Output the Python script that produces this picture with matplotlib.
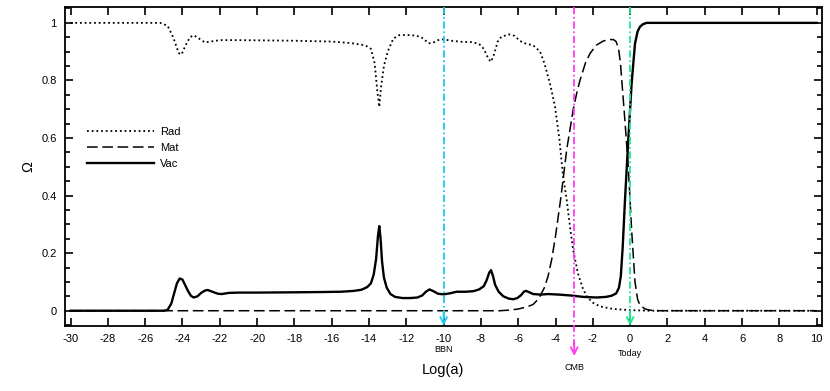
import numpy as np
import matplotlib
matplotlib.use("Agg")
import matplotlib.pyplot as plt
from matplotlib.ticker import MultipleLocator

plt.rcParams['font.family'] = ['Liberation Sans', 'DejaVu Sans']
plt.rcParams['axes.unicode_minus'] = False

# Omega_rad vs log(a)
rad_x = [-30, -25.2, -24.8, -24.5, -24.2, -24.05, -23.85, -23.6, -23.4, -23.1, -22.8, -22.5,
         -22.0, -21, -18, -16, -15, -14.2, -13.9, -13.7, -13.55, -13.45, -13.35, -13.2, -13.0,
         -12.7, -12.4, -12, -11.5, -11.2, -11.0, -10.8, -10.6, -10.3, -10.0, -9.6, -9, -8.5,
         -8.1, -7.85, -7.6, -7.46, -7.3, -7.1, -6.9, -6.5, -6.2, -5.9, -5.6, -5.2, -4.83,
         -4.6, -4.3, -4.03, -3.8, -3.6, -3.4, -3.2, -3.05, -2.8, -2.55, -2.33, -2.0, -1.62,
         -0.9, 0, 1.0, 10]
rad_y = [1.0, 1.0, 0.99, 0.95, 0.895, 0.89, 0.92, 0.95, 0.957, 0.945, 0.932, 0.935,
         0.94, 0.94, 0.938, 0.935, 0.93, 0.922, 0.91, 0.86, 0.76, 0.708, 0.78, 0.85, 0.9,
         0.945, 0.957, 0.958, 0.956, 0.95, 0.94, 0.929, 0.93, 0.94, 0.943, 0.938, 0.934, 0.933,
         0.927, 0.91, 0.875, 0.865, 0.89, 0.935, 0.952, 0.96, 0.955, 0.937, 0.928, 0.922, 0.9,
         0.86, 0.79, 0.71, 0.6, 0.47, 0.384, 0.28, 0.21, 0.13, 0.08, 0.05, 0.028, 0.015,
         0.006, 0.002, 0.0, 0.0]

# Omega_mat
mat_x = [-30, -7, -6.5, -6.0, -5.5, -5.2, -4.9, -4.6, -4.4, -4.2, -4.0, -3.85, -3.72, -3.55,
         -3.4, -3.2, -3.05, -2.85, -2.69, -2.4, -2.15, -1.8, -1.44, -1.1, -0.9, -0.75, -0.62,
         -0.52, -0.4, -0.28, -0.1, 0.08, 0.26, 0.4, 0.52, 0.8, 1.06, 1.5, 10]
mat_y = [0, 0, 0.002, 0.006, 0.014, 0.022, 0.042, 0.08, 0.12, 0.18, 0.26, 0.33, 0.39, 0.48,
         0.56, 0.64, 0.70, 0.76, 0.80, 0.86, 0.894, 0.923, 0.937, 0.942, 0.942, 0.935, 0.91,
         0.86, 0.76, 0.66, 0.5, 0.28, 0.1, 0.04, 0.02, 0.006, 0.002, 0, 0]

# Omega_vac
vac_x = [-30, -25.0, -24.8, -24.6, -24.45, -24.3, -24.15, -24.0, -23.85, -23.7, -23.55, -23.4,
         -23.2, -23.0, -22.8, -22.65, -22.4, -22.1, -21.9, -21.5, -21, -20, -18, -16.5, -15.5,
         -14.8, -14.4, -14.1, -13.9, -13.75, -13.62, -13.52, -13.45, -13.38, -13.3, -13.2,
         -13.05, -12.85, -12.6, -12.2, -11.8, -11.4, -11.15, -10.95, -10.76, -10.55, -10.3,
         -10.0, -9.7, -9.3, -8.8, -8.4, -8.1, -7.85, -7.7, -7.55, -7.46, -7.35, -7.24, -7.05,
         -6.8, -6.5, -6.26, -6.05, -5.85, -5.7, -5.58, -5.4, -5.2, -4.8, -4.4, -3.8, -3.2,
         -2.5, -1.8, -1.3, -1.0, -0.75, -0.6, -0.5, -0.4, -0.28, -0.1, 0.08, 0.26, 0.4, 0.52,
         0.7, 0.9, 10]
vac_y = [0, 0, 0.003, 0.025, 0.06, 0.095, 0.112, 0.108, 0.088, 0.068, 0.052, 0.046,
         0.05, 0.062, 0.07, 0.072, 0.066, 0.059, 0.058, 0.062, 0.063, 0.063, 0.064, 0.065, 0.066,
         0.069, 0.073, 0.082, 0.095, 0.125, 0.18, 0.26, 0.294, 0.25, 0.17, 0.115,
         0.08, 0.058, 0.048, 0.044, 0.044, 0.046, 0.053, 0.066, 0.074, 0.068, 0.059,
         0.057, 0.06, 0.066, 0.066, 0.068, 0.074, 0.085, 0.105, 0.133, 0.141, 0.12, 0.09, 0.066,
         0.05, 0.042, 0.04, 0.044, 0.054, 0.066, 0.069, 0.064, 0.058, 0.056, 0.058, 0.056, 0.053,
         0.048, 0.046, 0.048, 0.052, 0.06, 0.08, 0.12, 0.22, 0.38, 0.593, 0.79, 0.928, 0.97, 0.986,
         0.996, 1.0, 1.0]

# epochs marked with arrows
epoch_x = [-10, -3, 0]
epoch_names = ["BBN", "CMB", "Today"]
epoch_colors = ["#1ec8f2", "#ff3cf0", "#1ee68c"]

fig = plt.figure(figsize=(8.3, 3.91), dpi=100)
ax = fig.add_axes([0.0783, 0.167, 0.9117, 0.815])

ax.plot(rad_x, rad_y, color="black", lw=1.3, linestyle=(0, (1, 1.6)), label="Rad")
ax.plot(mat_x, mat_y, color="black", lw=1.1, linestyle=(0, (7, 3)), label="Mat")
ax.plot(vac_x, vac_y, color="black", lw=1.7, label="Vac")

ax.set_xlim(-30.3, 10.27)
ax.set_ylim(-0.052, 1.055)
ytop = 1.055
ybot = [-0.052, -0.157, -0.052]
for xv, name, col, yb in zip(epoch_x, epoch_names, epoch_colors, ybot):
    ax.plot([xv, xv], [ytop, yb + 0.02], color=col, lw=1.3, linestyle=(0, (4, 1.5, 1, 1.5)),
            clip_on=False, zorder=3)
    ax.annotate("", xy=(xv, yb), xytext=(xv, yb + 0.05),
                arrowprops=dict(arrowstyle="->", color=col, lw=1.3, mutation_scale=12,
                                shrinkA=0, shrinkB=0),
                annotation_clip=False, zorder=3)
ax.text(-10, -0.133, "BBN", ha="center", va="center", fontsize=6.5)
ax.text(0, -0.147, "Today", ha="center", va="center", fontsize=6.5)
ax.text(-3, -0.198, "CMB", ha="center", va="center", fontsize=6.5)

ax.xaxis.set_major_locator(MultipleLocator(2))
ax.yaxis.set_minor_locator(MultipleLocator(0.05))
ax.set_yticks([0, 0.2, 0.4, 0.6, 0.8, 1.0])
ax.set_yticklabels(["0", "0.2", "0.4", "0.6", "0.8", "1"])
ax.tick_params(which="both", direction="in", top=True, right=True, labelsize=8, width=1.2)
ax.tick_params(which="major", length=6, pad=6)
ax.tick_params(which="minor", length=3.5)
for sp in ax.spines.values():
    sp.set_linewidth(1.3)

ax.set_xlabel("Log(a)", fontsize=10.5, labelpad=14)
ax.set_ylabel("Ω", fontsize=10.5, rotation=90, labelpad=4)

ax.legend(loc="upper left", bbox_to_anchor=(0.029, 0.625), frameon=False, fontsize=8,
          handlelength=6.0, handletextpad=0.6, labelspacing=0.55, borderpad=0, borderaxespad=0)

fig.savefig("out.png", dpi=100)
